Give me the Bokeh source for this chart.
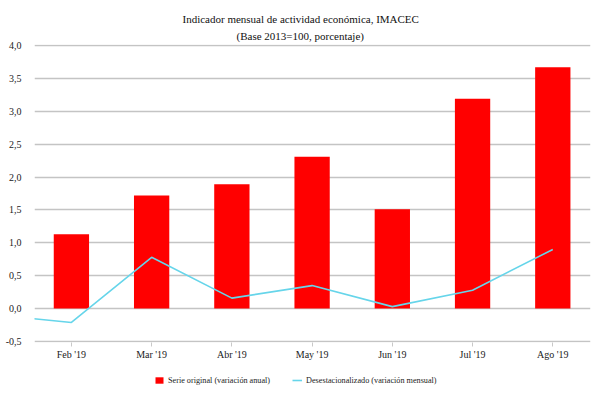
from bokeh.plotting import figure
from bokeh.layouts import column
from bokeh.models import Range1d, FixedTicker, Legend, LegendItem, Title, ColumnDataSource
from bokeh.embed import file_html
from bokeh.resources import INLINE

# Data
months = ["Feb '19", "Mar '19", "Abr '19", "May '19", "Jun '19", "Jul '19", "Ago '19"]
serie_original = [1.13, 1.72, 1.89, 2.31, 1.51, 3.19, 3.67]
line_months = ["Ene '19"] + months
desestacionalizado = [-0.09, -0.21, 0.78, 0.16, 0.35, 0.03, 0.28, 0.90]
y_ticks = [-0.5, 0.0, 0.5, 1.0, 1.5, 2.0, 2.5, 3.0, 3.5, 4.0]
title_lines = ["Indicador mensual de actividad económica, IMACEC", "(Base 2013=100, porcentaje)"]
legend_labels = ["Serie original (variación anual)", "Desestacionalizado (variación mensual)"]

FONT = "Liberation Serif"
BAR_COLOR = "#ff0000"
LINE_COLOR = "#66d5ea"

p = figure(width=600, height=370, output_backend="svg", toolbar_location=None,
           x_range=Range1d(-0.46, 6.47), y_range=Range1d(-0.515, 4.015),
           min_border_left=34, min_border_right=10, min_border_top=44, min_border_bottom=28)
p.outline_line_color = None

bar_src = ColumnDataSource(dict(x=list(range(len(months))), top=serie_original))
p.vbar(x="x", top="top", bottom=0, width=0.44, source=bar_src,
       fill_color=BAR_COLOR, line_color=None)

line_src = ColumnDataSource(dict(x=[i - 1 for i in range(len(line_months))], y=desestacionalizado))
p.line(x="x", y="y", source=line_src, line_color=LINE_COLOR, line_width=1.6)

# Axes
p.xaxis.ticker = FixedTicker(ticks=list(range(len(months))))
p.xaxis.major_label_overrides = {i: m for i, m in enumerate(months)}
p.xaxis.axis_line_color = None
p.xaxis.major_tick_in = 0
p.xaxis.major_tick_out = 4
p.xaxis.major_tick_line_color = "#c8c8c8"
p.xaxis.minor_tick_line_color = None
p.xaxis.minor_tick_out = 0
p.xaxis.major_label_standoff = 2
p.xaxis.major_label_text_font = FONT
p.xaxis.major_label_text_font_size = "10px"
p.xaxis.major_label_text_color = "#222222"

p.yaxis.ticker = FixedTicker(ticks=y_ticks)
p.yaxis.major_label_overrides = {t: f"{t:.1f}".replace(".", ",") for t in y_ticks}
p.yaxis.axis_line_color = None
p.yaxis.major_tick_line_color = None
p.yaxis.major_tick_out = 0
p.yaxis.major_tick_in = 0
p.yaxis.minor_tick_line_color = None
p.yaxis.minor_tick_out = 0
p.yaxis.major_label_standoff = 13
p.yaxis.major_label_text_font = FONT
p.yaxis.major_label_text_font_size = "10px"
p.yaxis.major_label_text_color = "#222222"

p.xgrid.grid_line_color = None
p.ygrid.ticker = FixedTicker(ticks=y_ticks)
p.ygrid.grid_line_color = "#c4c4c4"
p.ygrid.grid_line_width = 1.5

# Title (two lines, centered on the figure)
p.add_layout(Title(text=title_lines[1], align="left", offset=202, standoff=6,
                   text_font=FONT, text_font_size="11px", text_font_style="normal",
                   text_color="#111111"), "above")
p.add_layout(Title(text=title_lines[0], align="left", offset=148, standoff=0,
                   text_font=FONT, text_font_size="11px", text_font_style="normal",
                   text_color="#111111"), "above")

# Legend strip underneath (same series, viewed off-range so only the legend swatches show)
lf = figure(width=600, height=30, output_backend="svg", toolbar_location=None,
            x_axis_type=None, y_axis_type=None,
            x_range=Range1d(-0.46, 6.47), y_range=Range1d(10, 11), min_border=0)
lf.outline_line_color = None
lf.xgrid.visible = False
lf.ygrid.visible = False
lb = lf.vbar(x="x", top="top", bottom=0, width=0.44, source=bar_src,
             fill_color=BAR_COLOR, line_color=None)
ll = lf.line(x="x", y="y", source=line_src, line_color=LINE_COLOR, line_width=1.6)
legend = Legend(items=[LegendItem(label=legend_labels[0], renderers=[lb]),
                       LegendItem(label=legend_labels[1], renderers=[ll])],
                location=(120, 15), orientation="horizontal",
                padding=0, margin=0, spacing=22, border_line_color=None,
                background_fill_alpha=0, glyph_width=10, glyph_height=8,
                label_height=10, label_standoff=4,
                label_text_font=FONT, label_text_font_size="8.2px", label_text_color="#222222")
lf.add_layout(legend, "center")

layout = column(p, lf, spacing=0)
open("out.html", "w").write(file_html(layout, INLINE))
